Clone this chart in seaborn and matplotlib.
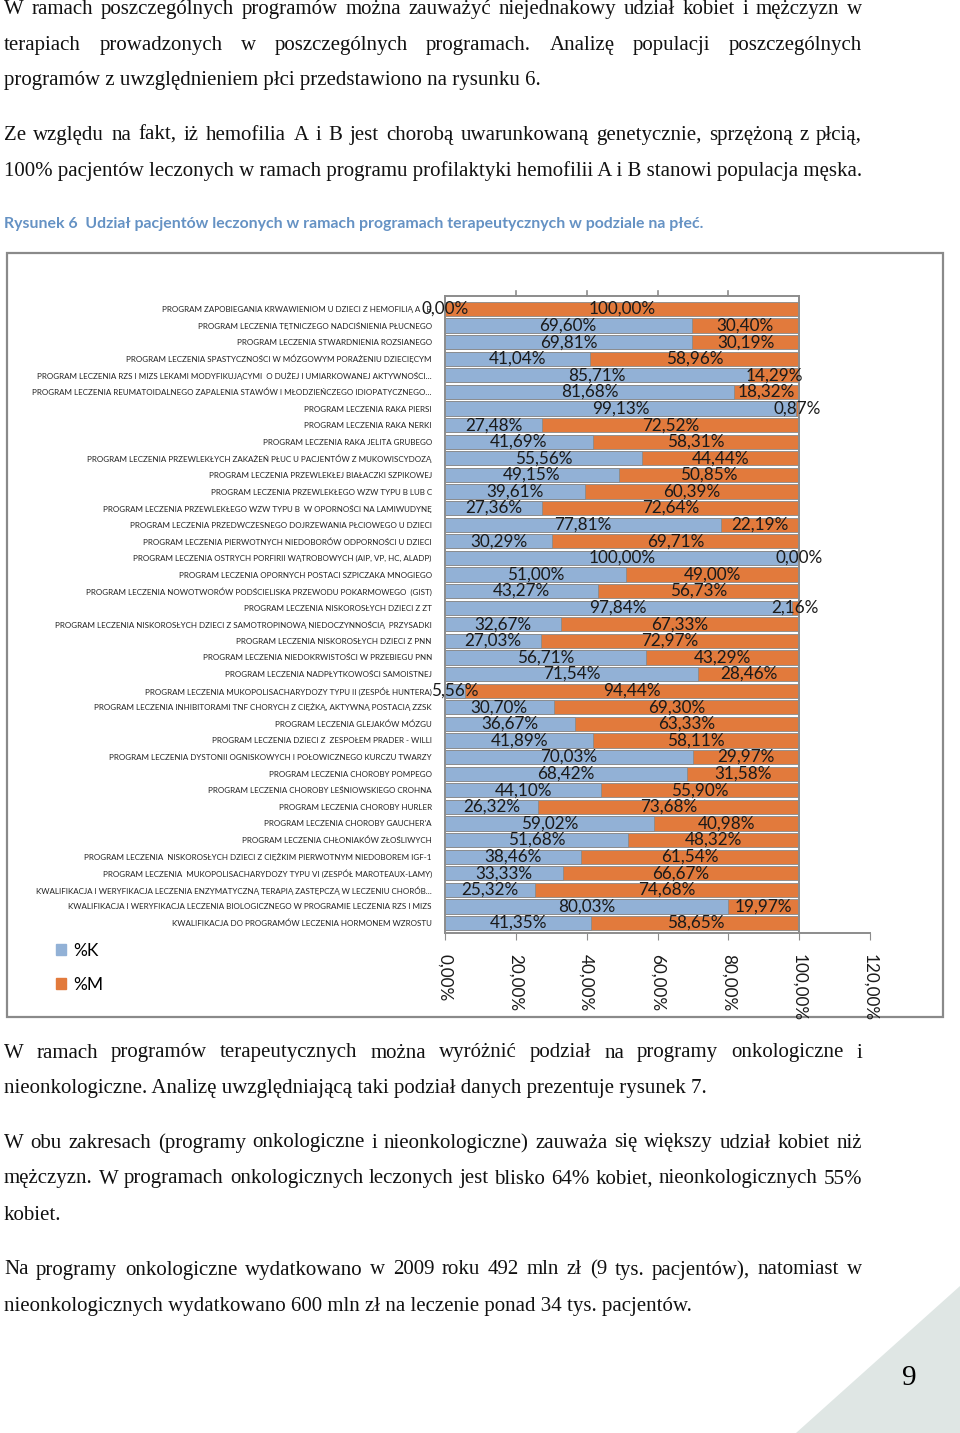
import matplotlib
matplotlib.use("Agg")
import matplotlib.pyplot as plt
import seaborn as sns
import pandas as pd
from matplotlib.patches import Patch, Rectangle, Polygon


# ----------------------------
# Data
# ----------------------------

programs = [
    "PROGRAM ZAPOBIEGANIA KRWAWIENIOM U DZIECI Z HEMOFILIĄ A I B",
    "PROGRAM LECZENIA TĘTNICZEGO NADCIŚNIENIA PŁUCNEGO",
    "PROGRAM LECZENIA STWARDNIENIA ROZSIANEGO",
    "PROGRAM LECZENIA SPASTYCZNOŚCI W MÓZGOWYM PORAŻENIU DZIECIĘCYM",
    "PROGRAM LECZENIA RZS I MIZS LEKAMI MODYFIKUJĄCYMI  O DUŻEJ I UMIARKOWANEJ AKTYWNOŚCI…",
    "PROGRAM LECZENIA REUMATOIDALNEGO ZAPALENIA STAWÓW I MŁODZIEŃCZEGO IDIOPATYCZNEGO…",
    "PROGRAM LECZENIA RAKA PIERSI",
    "PROGRAM LECZENIA RAKA NERKI",
    "PROGRAM LECZENIA RAKA JELITA GRUBEGO",
    "PROGRAM LECZENIA PRZEWLEKŁYCH ZAKAŻEŃ PŁUC U PACJENTÓW Z MUKOWISCYDOZĄ",
    "PROGRAM LECZENIA PRZEWLEKŁEJ BIAŁACZKI SZPIKOWEJ",
    "PROGRAM LECZENIA PRZEWLEKŁEGO WZW TYPU B LUB C",
    "PROGRAM LECZENIA PRZEWLEKŁEGO WZW TYPU B  W OPORNOŚCI NA LAMIWUDYNĘ",
    "PROGRAM LECZENIA PRZEDWCZESNEGO DOJRZEWANIA PŁCIOWEGO U DZIECI",
    "PROGRAM LECZENIA PIERWOTNYCH NIEDOBORÓW ODPORNOŚCI U DZIECI",
    "PROGRAM LECZENIA OSTRYCH PORFIRII WĄTROBOWYCH (AIP, VP, HC, ALADP)",
    "PROGRAM LECZENIA OPORNYCH POSTACI SZPICZAKA MNOGIEGO",
    "PROGRAM LECZENIA NOWOTWORÓW PODŚCIELISKA PRZEWODU POKARMOWEGO  (GIST)",
    "PROGRAM LECZENIA NISKOROSŁYCH DZIECI Z ZT",
    "PROGRAM LECZENIA NISKOROSŁYCH DZIECI Z SAMOTROPINOWĄ NIEDOCZYNNOŚCIĄ  PRZYSADKI",
    "PROGRAM LECZENIA NISKOROSŁYCH DZIECI Z PNN",
    "PROGRAM LECZENIA NIEDOKRWISTOŚCI W PRZEBIEGU PNN",
    "PROGRAM LECZENIA NADPŁYTKOWOŚCI SAMOISTNEJ",
    "PROGRAM LECZENIA MUKOPOLISACHARYDOZY TYPU II (ZESPÓŁ HUNTERA)",
    "PROGRAM LECZENIA INHIBITORAMI TNF CHORYCH Z CIĘŻKĄ, AKTYWNĄ POSTACIĄ ZZSK",
    "PROGRAM LECZENIA GLEJAKÓW MÓZGU",
    "PROGRAM LECZENIA DZIECI Z  ZESPOŁEM PRADER - WILLI",
    "PROGRAM LECZENIA DYSTONII OGNISKOWYCH I POŁOWICZNEGO KURCZU TWARZY",
    "PROGRAM LECZENIA CHOROBY POMPEGO",
    "PROGRAM LECZENIA CHOROBY LEŚNIOWSKIEGO CROHNA",
    "PROGRAM LECZENIA CHOROBY HURLER",
    "PROGRAM LECZENIA CHOROBY GAUCHER'A",
    "PROGRAM LECZENIA CHŁONIAKÓW ZŁOŚLIWYCH",
    "PROGRAM LECZENIA  NISKOROSŁYCH DZIECI Z CIĘŻKIM PIERWOTNYM NIEDOBOREM IGF-1",
    "PROGRAM LECZENIA  MUKOPOLISACHARYDOZY TYPU VI (ZESPÓŁ MAROTEAUX-LAMY)",
    "KWALIFIKACJA I WERYFIKACJA LECZENIA ENZYMATYCZNĄ TERAPIĄ ZASTĘPCZĄ W LECZENIU CHORÓB…",
    "KWALIFIKACJA I WERYFIKACJA LECZENIA BIOLOGICZNEGO W PROGRAMIE LECZENIA RZS I MIZS",
    "KWALIFIKACJA DO PROGRAMÓW LECZENIA HORMONEM WZROSTU",
]

pct_k = [
    0.00, 69.60, 69.81, 41.04, 85.71, 81.68, 99.13, 27.48, 41.69, 55.56,
    49.15, 39.61, 27.36, 77.81, 30.29, 100.00, 51.00, 43.27, 97.84, 32.67,
    27.03, 56.71, 71.54, 5.56, 30.70, 36.67, 41.89, 70.03, 68.42, 44.10,
    26.32, 59.02, 51.68, 38.46, 33.33, 25.32, 80.03, 41.35,
]

pct_m = [
    100.00, 30.40, 30.19, 58.96, 14.29, 18.32, 0.87, 72.52, 58.31, 44.44,
    50.85, 60.39, 72.64, 22.19, 69.71, 0.00, 49.00, 56.73, 2.16, 67.33,
    72.97, 43.29, 28.46, 94.44, 69.30, 63.33, 58.11, 29.97, 31.58, 55.90,
    73.68, 40.98, 48.32, 61.54, 66.67, 74.68, 19.97, 58.65,
]

x_ticks = [0, 20, 40, 60, 80, 100, 120]

# page text around the figure: (text, justified)
text_top = [
    ("W ramach poszczególnych programów można zauważyć niejednakowy udział kobiet i mężczyzn w", True),
    ("terapiach prowadzonych w poszczególnych programach. Analizę populacji poszczególnych", True),
    ("programów z uwzględnieniem płci przedstawiono na rysunku 6.", False),
    ("Ze względu na fakt, iż hemofilia A i B jest chorobą uwarunkowaną genetycznie, sprzężoną z płcią,", True),
    ("100% pacjentów leczonych w ramach programu profilaktyki hemofilii A i B stanowi populacja męska.", False),
]
text_bottom = [
    ("W ramach programów terapeutycznych można wyróżnić podział na programy onkologiczne i", True),
    ("nieonkologiczne. Analizę uwzględniającą taki podział danych prezentuje rysunek 7.", False),
    ("W obu zakresach (programy onkologiczne i nieonkologiczne) zauważa się większy udział kobiet niż", True),
    ("mężczyzn. W programach onkologicznych leczonych jest blisko 64% kobiet, nieonkologicznych 55%", True),
    ("kobiet.", False),
    ("Na programy onkologiczne wydatkowano w 2009 roku 492 mln zł (9 tys. pacjentów), natomiast w", True),
    ("nieonkologicznych wydatkowano 600 mln zł na leczenie ponad 34 tys. pacjentów.", False),
]
caption = "Rysunek 6  Udział pacjentów leczonych w ramach programach terapeutycznych w podziale na płeć."

df = pd.DataFrame({"program": programs, "K": pct_k, "M": pct_m})
df["total"] = df["K"] + df["M"]

BLUE = "#92B1D6"
ORANGE = "#E27A3C"
GRID = "#8c8c8c"


def pct(v):
    return f"{v:.2f}%".replace(".", ",")


# ----------------------------
# Figure / page canvas
# ----------------------------

W, H = 960, 1433
fig = plt.figure(figsize=(W / 100, H / 100), dpi=100)
fig.patch.set_facecolor("white")

page = fig.add_axes([0, 0, 1, 1], zorder=0)
page.set_xlim(0, W)
page.set_ylim(H, 0)
page.axis("off")

renderer = fig.canvas.get_renderer()
body = dict(family="Liberation Serif", fontsize=15.0, color="#111111", va="center")


def put_line(text, x, y, width=None, **kw):
    if width is None:
        page.text(x, y, text, ha="left", **kw)
        return
    words = text.split()
    items = [page.text(0, y, w, ha="left", **kw) for w in words]
    widths = [t.get_window_extent(renderer).width for t in items]
    gap = (width - sum(widths)) / (len(words) - 1)
    cx = x
    for t, w in zip(items, widths):
        t.set_x(cx)
        cx += w + gap


for (line, just), y in zip(text_top, [9, 45, 80, 135, 171]):
    put_line(line, 4, y, 858 if just else None, **body)

for (line, just), y in zip(text_bottom, [1053, 1089, 1143, 1179, 1215, 1270, 1306]):
    put_line(line, 4, y, 858 if just else None, **body)

page.text(4, 224, caption, family="Lato", fontweight="bold", fontsize=11.4,
          color="#6592C4", va="center", ha="left")

# chart frame
page.add_patch(Rectangle((7, 253), 936, 764, fill=False, edgecolor="#8a8a8a", lw=1.6))

# page corner decoration and page number
page.add_patch(Polygon([[796, H], [W, H], [W, 1286]], closed=True,
                       facecolor="#DFE6E4", edgecolor="none"))
page.text(909, 1378, "9", family="Liberation Serif", fontsize=21, ha="center", va="center")


# ----------------------------
# Stacked bar chart
# ----------------------------

ax = fig.add_axes([445 / W, 1 - 933 / H, 425 / W, 637 / H], zorder=1)
ax.patch.set_alpha(0)

sns.barplot(data=df, x="total", y="program", color=ORANGE, orient="h",
            width=0.86, edgecolor="#8a8a8a", linewidth=0.6, saturation=1, ax=ax)
sns.barplot(data=df, x="K", y="program", color=BLUE, orient="h",
            width=0.86, edgecolor="#8a8a8a", linewidth=0.6, saturation=1, ax=ax)

lab = dict(family="Lato", fontsize=12.3, color="#1a1a1a", ha="center", va="center")
for i, (k, m) in enumerate(zip(pct_k, pct_m)):
    ax.text(k / 2, i, pct(k), **lab)
    ax.text(k + m / 2, i, pct(m), **lab)

ax.set_xlim(0, 120)
ax.set_ylim(len(programs) - 0.4, -0.78)
ax.set_xticks(x_ticks)
ax.set_xticklabels([pct(t) for t in x_ticks], rotation=-90,
                   family="Lato", fontsize=12.3, color="#1a1a1a")
ax.tick_params(axis="x", length=5, color=GRID, pad=10)
ax.tick_params(axis="y", length=0, pad=9.5)
for t in ax.get_yticklabels():
    t.set_family("Lato")
    t.set_fontsize(5.75)
    t.set_color("#222222")
ax.set_xlabel("")
ax.set_ylabel("")

for s in ["top", "right"]:
    ax.spines[s].set_visible(False)
for s in ["left", "bottom"]:
    ax.spines[s].set_color(GRID)
    ax.spines[s].set_linewidth(1.4)

# back wall edges
ax.plot([0, 100], [-0.78, -0.78], color=GRID, lw=1.4, clip_on=False)
ax.plot([100, 100], [-0.78, len(programs) - 0.4], color=GRID, lw=1.4, clip_on=False)
for t in x_ticks[1:5]:
    ax.plot([t, t], [-0.78, -1.1], color=GRID, lw=1.2, clip_on=False)

# legend
fig.legend(handles=[Patch(color=BLUE, label="%K"), Patch(color=ORANGE, label="%M")],
           loc="upper left", bbox_to_anchor=(40 / W, 1 - 927 / H), frameon=False,
           prop={"family": "Lato", "size": 12.5}, handlelength=0.6, handleheight=0.6,
           handletextpad=0.4, labelspacing=1.05)

fig.savefig("out.png", dpi=100)
print("saved out.png")
